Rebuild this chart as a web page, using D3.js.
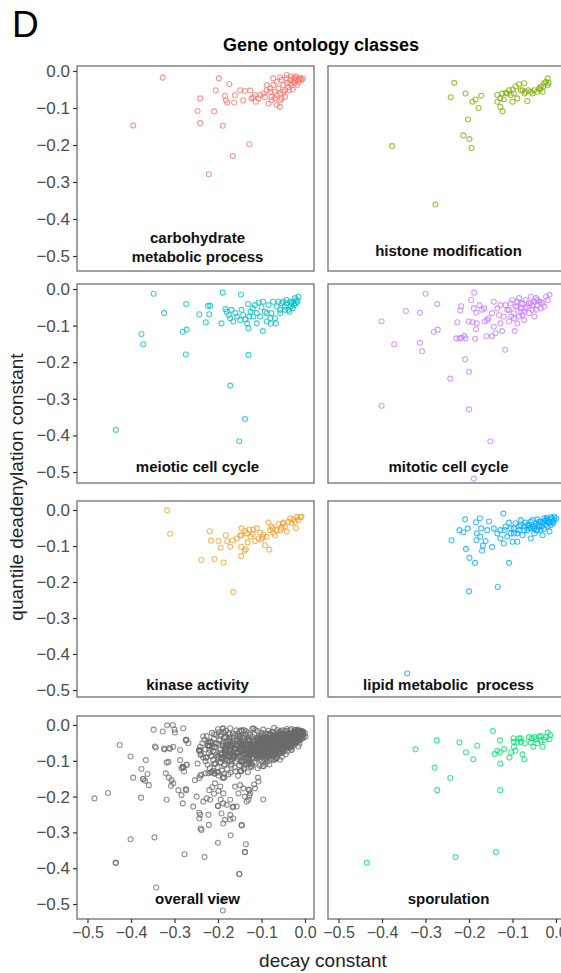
<!DOCTYPE html>
<html>
<head>
<meta charset="utf-8">
<script src="https://cdnjs.cloudflare.com/ajax/libs/d3/7.8.5/d3.min.js"></script>
<style>
  body { margin: 0; background: #fff; }
  text { font-family: "Liberation Sans", Arial, sans-serif; }
</style>
</head>
<body>
<div id="d3"></div>
<script>
// values: [decay constant, quantile deadenylation constant]
const carbohydrate = [
  [-0.327,-0.018],[-0.395,-0.147],[-0.198,-0.020],[-0.174,-0.035],[-0.205,-0.052],[-0.241,-0.074],[-0.247,-0.108],
  [-0.209,-0.109],[-0.241,-0.141],[-0.189,-0.148],[-0.128,-0.198],[-0.166,-0.230],[-0.221,-0.279],[-0.184,-0.067],
  [-0.182,-0.079],[-0.179,-0.085],[-0.163,-0.085],[-0.161,-0.065],[-0.149,-0.052],[-0.138,-0.054],[-0.126,-0.053],
  [-0.142,-0.079],[-0.123,-0.074],[-0.113,-0.083],[-0.065,-0.092],[-0.058,-0.097],[-0.084,-0.088],
  [-0.103,-0.065],[-0.096,-0.061],[-0.088,-0.052],[-0.080,-0.047],[-0.077,-0.070],[-0.073,-0.038],[-0.069,-0.056],
  [-0.065,-0.029],[-0.061,-0.047],[-0.057,-0.061],[-0.054,-0.024],[-0.050,-0.038],[-0.046,-0.052],[-0.042,-0.020],
  [-0.041,-0.033],[-0.038,-0.044],[-0.034,-0.024],[-0.033,-0.015],[-0.031,-0.038],[-0.027,-0.029],[-0.025,-0.020],
  [-0.023,-0.033],[-0.021,-0.024],[-0.019,-0.017],[-0.015,-0.029],[-0.013,-0.023],[-0.011,-0.020],[-0.008,-0.024],
  [-0.005,-0.020],[-0.054,-0.074],[-0.046,-0.070],[-0.069,-0.074],[-0.077,-0.079],[-0.107,-0.074],[-0.115,-0.065],
  [-0.119,-0.071],[-0.057,-0.079],[-0.050,-0.056],[-0.036,-0.052],[-0.028,-0.050],[-0.018,-0.038],[-0.042,-0.011],
  [-0.057,-0.017],[-0.073,-0.020],[-0.088,-0.038],[-0.092,-0.070],[-0.080,-0.056],[-0.065,-0.065],[-0.034,-0.033],
  [-0.023,-0.014]
];
const histone = [
  [-0.234,-0.032],[-0.242,-0.071],[-0.208,-0.061],[-0.192,-0.083],[-0.185,-0.077],[-0.172,-0.067],[-0.178,-0.100],
  [-0.202,-0.131],[-0.213,-0.174],[-0.199,-0.184],[-0.194,-0.208],[-0.377,-0.203],[-0.277,-0.361],
  [-0.135,-0.065],[-0.135,-0.083],[-0.128,-0.097],[-0.123,-0.109],[-0.120,-0.077],[-0.116,-0.059],[-0.108,-0.052],
  [-0.104,-0.065],[-0.100,-0.083],[-0.097,-0.061],[-0.093,-0.042],[-0.085,-0.036],[-0.081,-0.052],[-0.073,-0.033],
  [-0.072,-0.061],[-0.066,-0.081],[-0.058,-0.056],[-0.050,-0.052],[-0.043,-0.056],[-0.035,-0.042],[-0.031,-0.056],
  [-0.027,-0.033],[-0.023,-0.029],[-0.019,-0.020],[-0.019,-0.038],[-0.039,-0.047],[-0.054,-0.061],[-0.070,-0.056],
  [-0.112,-0.061],[-0.124,-0.061],[-0.128,-0.074],[-0.089,-0.074],[-0.077,-0.052],[-0.100,-0.050],[-0.064,-0.052],
  [-0.017,-0.032],[-0.029,-0.042],[-0.036,-0.050]
];
const meiotic = [
  [-0.348,-0.013],[-0.435,-0.385],[-0.376,-0.123],[-0.372,-0.151],[-0.324,-0.066],[-0.273,-0.041],[-0.281,-0.117],
  [-0.272,-0.111],[-0.274,-0.179],[-0.243,-0.069],[-0.228,-0.091],[-0.223,-0.046],[-0.218,-0.046],[-0.220,-0.069],
  [-0.192,-0.094],[-0.189,-0.010],[-0.147,-0.015],[-0.131,-0.041],[-0.130,-0.107],[-0.130,-0.180],[-0.172,-0.264],
  [-0.138,-0.355],[-0.151,-0.416],[-0.097,-0.115],
  [-0.183,-0.055],[-0.180,-0.062],[-0.175,-0.071],[-0.172,-0.080],[-0.169,-0.057],[-0.165,-0.089],[-0.160,-0.066],
  [-0.156,-0.075],[-0.149,-0.085],[-0.146,-0.057],[-0.142,-0.071],[-0.137,-0.083],[-0.133,-0.094],[-0.128,-0.075],
  [-0.125,-0.062],[-0.120,-0.053],[-0.115,-0.044],[-0.111,-0.066],[-0.107,-0.037],[-0.103,-0.075],[-0.100,-0.050],
  [-0.096,-0.035],[-0.092,-0.062],[-0.088,-0.089],[-0.084,-0.044],[-0.080,-0.080],[-0.077,-0.066],[-0.073,-0.035],
  [-0.069,-0.080],[-0.065,-0.048],[-0.061,-0.035],[-0.057,-0.057],[-0.054,-0.039],[-0.050,-0.035],[-0.046,-0.048],
  [-0.042,-0.039],[-0.038,-0.057],[-0.034,-0.035],[-0.033,-0.048],[-0.031,-0.039],[-0.028,-0.053],[-0.027,-0.035],
  [-0.025,-0.044],[-0.023,-0.025],[-0.021,-0.039],[-0.019,-0.030],[-0.017,-0.035],[-0.015,-0.021],[-0.046,-0.057],
  [-0.057,-0.066],[-0.088,-0.066],[-0.111,-0.094],[-0.119,-0.075],[-0.079,-0.095],[-0.067,-0.094],[-0.036,-0.062],
  [-0.042,-0.030]
];
const mitotic = [
  [-0.300,-0.013],[-0.401,-0.088],[-0.372,-0.151],[-0.345,-0.060],[-0.313,-0.065],[-0.313,-0.147],[-0.308,-0.170],
  [-0.273,-0.041],[-0.281,-0.117],[-0.272,-0.111],[-0.401,-0.319],[-0.243,-0.245],[-0.209,-0.192],[-0.200,-0.226],
  [-0.200,-0.329],[-0.151,-0.416],[-0.189,-0.491],[-0.189,-0.518],[-0.117,-0.166],[-0.188,-0.010],[-0.218,-0.047],
  [-0.220,-0.059],[-0.227,-0.091],[-0.229,-0.135],[-0.222,-0.135],[-0.217,-0.133],[-0.208,-0.135],[-0.211,-0.128],
  [-0.201,-0.089],[-0.192,-0.091],[-0.195,-0.030],[-0.186,-0.136],[-0.184,-0.110],
  [-0.182,-0.094],[-0.189,-0.053],[-0.183,-0.065],[-0.176,-0.044],[-0.165,-0.053],[-0.160,-0.129],[-0.147,-0.129],
  [-0.139,-0.121],[-0.124,-0.115],[-0.095,-0.115],[-0.164,-0.089],[-0.155,-0.080],[-0.147,-0.066],[-0.143,-0.035],
  [-0.135,-0.053],[-0.128,-0.044],[-0.120,-0.075],[-0.112,-0.057],[-0.108,-0.089],[-0.104,-0.039],[-0.100,-0.030],
  [-0.097,-0.066],[-0.093,-0.048],[-0.089,-0.035],[-0.085,-0.075],[-0.081,-0.053],[-0.077,-0.039],[-0.073,-0.062],
  [-0.070,-0.030],[-0.066,-0.048],[-0.062,-0.066],[-0.058,-0.039],[-0.054,-0.057],[-0.050,-0.075],[-0.046,-0.025],
  [-0.043,-0.044],[-0.039,-0.035],[-0.035,-0.053],[-0.031,-0.039],[-0.027,-0.048],[-0.023,-0.021],[-0.019,-0.030],
  [-0.015,-0.016],[-0.058,-0.021],[-0.073,-0.085],[-0.128,-0.094],[-0.143,-0.103],[-0.158,-0.085],[-0.170,-0.057],
  [-0.089,-0.094],[-0.103,-0.075],[-0.077,-0.071],[-0.046,-0.057],[-0.035,-0.035],[-0.085,-0.025],[-0.116,-0.044],
  [-0.131,-0.071],[-0.089,-0.048],[-0.081,-0.062],[-0.070,-0.053],[-0.062,-0.039],[-0.054,-0.044],[-0.050,-0.035],
  [-0.043,-0.030],[-0.097,-0.080],[-0.108,-0.057],[-0.081,-0.039]
];
const kinase = [
  [-0.317,-0.001],[-0.310,-0.066],[-0.238,-0.139],[-0.219,-0.059],[-0.216,-0.085],[-0.208,-0.136],[-0.199,-0.086],
  [-0.194,-0.105],[-0.187,-0.146],[-0.182,-0.070],[-0.179,-0.087],[-0.172,-0.102],[-0.165,-0.228],[-0.166,-0.084],
  [-0.149,-0.071],[-0.147,-0.102],[-0.147,-0.128],[-0.146,-0.051],[-0.136,-0.109],[-0.134,-0.065],[-0.132,-0.090],
  [-0.128,-0.054],[-0.125,-0.074],[-0.120,-0.067],[-0.115,-0.086],[-0.111,-0.051],[-0.107,-0.079],[-0.103,-0.063],
  [-0.100,-0.082],[-0.096,-0.068],[-0.092,-0.098],[-0.088,-0.074],[-0.084,-0.035],[-0.082,-0.110],[-0.080,-0.056],
  [-0.077,-0.046],[-0.073,-0.063],[-0.069,-0.070],[-0.065,-0.056],[-0.061,-0.039],[-0.057,-0.056],[-0.054,-0.049],
  [-0.050,-0.035],[-0.046,-0.045],[-0.042,-0.060],[-0.038,-0.033],[-0.034,-0.023],[-0.031,-0.037],[-0.027,-0.026],
  [-0.023,-0.033],[-0.019,-0.019],[-0.015,-0.028],[-0.011,-0.020],[-0.008,-0.019],[-0.021,-0.051],[-0.146,-0.070],
  [-0.138,-0.058],[-0.119,-0.054],[-0.097,-0.076],[-0.074,-0.051],[-0.051,-0.039],[-0.139,-0.113],[-0.157,-0.079]
];
const lipid = [
  [-0.342,-0.454],[-0.200,-0.226],[-0.134,-0.214],[-0.108,-0.147],[-0.186,-0.147],[-0.199,-0.133],[-0.207,-0.108],
  [-0.240,-0.084],[-0.222,-0.056],[-0.213,-0.062],[-0.209,-0.026],[-0.203,-0.051],[-0.184,-0.034],[-0.175,-0.023],
  [-0.172,-0.051],[-0.182,-0.065],[-0.183,-0.084],[-0.170,-0.113],[-0.168,-0.099],[-0.162,-0.086],[-0.174,-0.074],
  [-0.154,-0.032],[-0.147,-0.103],[-0.143,-0.051],[-0.135,-0.065],[-0.128,-0.056],[-0.121,-0.010],[-0.120,-0.093],
  [-0.116,-0.046],[-0.108,-0.035],[-0.104,-0.065],[-0.100,-0.088],[-0.097,-0.051],[-0.093,-0.037],[-0.089,-0.088],
  [-0.085,-0.056],[-0.081,-0.042],[-0.077,-0.070],[-0.073,-0.046],[-0.070,-0.035],[-0.066,-0.056],[-0.062,-0.042],
  [-0.058,-0.079],[-0.054,-0.028],[-0.050,-0.051],[-0.046,-0.037],[-0.043,-0.026],[-0.039,-0.046],[-0.035,-0.033],
  [-0.031,-0.070],[-0.027,-0.023],[-0.023,-0.042],[-0.019,-0.028],[-0.015,-0.060],[-0.012,-0.020],[-0.008,-0.033],
  [-0.004,-0.019],[0.000,-0.023],[-0.050,-0.065],[-0.035,-0.056],[-0.089,-0.065],[-0.081,-0.028],[-0.058,-0.033],
  [-0.043,-0.056],[-0.019,-0.046],[-0.128,-0.079],[-0.112,-0.074],[-0.158,-0.056],[-0.073,-0.056],[-0.066,-0.042],
  [-0.054,-0.046],[-0.046,-0.056],[-0.039,-0.033],[-0.031,-0.037],[-0.023,-0.028],[-0.015,-0.033],[-0.012,-0.042],
  [-0.004,-0.028],[-0.058,-0.051],[-0.097,-0.065],[-0.085,-0.046],[-0.104,-0.051],[-0.118,-0.056],
  [-0.026,-0.031],[-0.017,-0.036],[-0.009,-0.024],[-0.033,-0.046],[-0.048,-0.045],[-0.062,-0.050],[-0.041,-0.041],
  [-0.021,-0.022],[-0.006,-0.037],[-0.028,-0.053]
];
const sporulation = [
  [-0.435,-0.385],[-0.323,-0.068],[-0.274,-0.043],[-0.279,-0.119],[-0.273,-0.182],[-0.243,-0.148],[-0.231,-0.369],
  [-0.222,-0.048],[-0.207,-0.076],[-0.190,-0.096],[-0.181,-0.058],[-0.145,-0.017],[-0.138,-0.355],[-0.128,-0.182],
  [-0.129,-0.043],[-0.128,-0.108],[-0.141,-0.081],[-0.135,-0.072],[-0.129,-0.076],[-0.119,-0.067],[-0.107,-0.091],
  [-0.103,-0.076],[-0.097,-0.061],[-0.098,-0.037],[-0.093,-0.072],[-0.089,-0.049],[-0.085,-0.037],[-0.081,-0.047],
  [-0.077,-0.082],[-0.073,-0.096],[-0.072,-0.051],[-0.062,-0.034],[-0.058,-0.049],[-0.052,-0.061],[-0.050,-0.034],
  [-0.046,-0.040],[-0.043,-0.051],[-0.039,-0.033],[-0.035,-0.044],[-0.031,-0.061],[-0.027,-0.042],[-0.023,-0.034],
  [-0.019,-0.021],[-0.015,-0.040],[-0.013,-0.028],[-0.081,-0.037],[-0.056,-0.037],[-0.097,-0.047],[-0.035,-0.031]
];
// genes only seen in the overall panel
const overallOnly = [
  [-0.484,-0.205],[-0.453,-0.190],[-0.426,-0.056],[-0.366,-0.098],[-0.368,-0.156],[-0.362,-0.137],[-0.359,-0.168],
  [-0.346,-0.314],[-0.343,-0.063],[-0.304,0.000],[-0.299,-0.021],[-0.280,-0.009],[-0.303,-0.061],[-0.318,-0.105],
  [-0.314,-0.103],[-0.320,-0.135],[-0.307,-0.154],[-0.318,-0.209],[-0.303,-0.163],[-0.291,-0.182],[-0.287,-0.098],
  [-0.284,-0.121],[-0.278,-0.130],[-0.287,-0.070],[-0.268,-0.051],[-0.281,-0.219],[-0.284,-0.196],[-0.253,-0.154],
  [-0.249,-0.200],[-0.257,-0.228],[-0.241,-0.251],[-0.243,-0.261],[-0.240,-0.289],[-0.238,-0.293],[-0.222,-0.251],
  [-0.234,-0.214],[-0.226,-0.205],[-0.218,-0.209],[-0.220,-0.182],[-0.207,-0.163],[-0.195,-0.172],[-0.188,-0.191],
  [-0.188,-0.219],[-0.180,-0.223],[-0.172,-0.209],[-0.192,-0.247],[-0.188,-0.275],[-0.184,-0.265],[-0.172,-0.251],
  [-0.165,-0.261],[-0.157,-0.228],[-0.161,-0.172],[-0.153,-0.191],[-0.149,-0.168],[-0.142,-0.177],[-0.138,-0.200],
  [-0.126,-0.191],[-0.146,-0.279],[-0.130,-0.209],[-0.115,-0.177],[-0.107,-0.158],[-0.096,-0.208],[-0.171,-0.308],
  [-0.136,-0.333],[-0.145,-0.281],
  [-0.200,-0.012],[-0.172,-0.009],[-0.141,-0.014],[-0.118,-0.010],[-0.096,-0.013],[-0.071,-0.008],[-0.052,-0.015],
  [-0.031,-0.011],[-0.016,-0.013],[-0.214,-0.022],[-0.188,-0.019],[-0.166,-0.024],[-0.151,-0.018],[-0.131,-0.022],
  [-0.109,-0.017],[-0.091,-0.023],[-0.076,-0.019],[-0.061,-0.021],[-0.046,-0.017],[-0.036,-0.023],[-0.026,-0.018],
  [-0.017,-0.021],[-0.010,-0.016],[-0.004,-0.022],[-0.226,-0.031],[-0.204,-0.028],[-0.181,-0.033],[-0.161,-0.029],
  [-0.144,-0.032],[-0.126,-0.027],[-0.104,-0.031],[-0.091,-0.034],[-0.079,-0.028],[-0.066,-0.032],[-0.054,-0.027],
  [-0.041,-0.031],[-0.029,-0.034],[-0.021,-0.028],[-0.012,-0.031],[-0.005,-0.027],[0.001,-0.032],[-0.231,-0.041],
  [-0.209,-0.038],[-0.196,-0.043],[-0.174,-0.039],[-0.156,-0.042],[-0.139,-0.037],[-0.121,-0.041],[-0.101,-0.044],
  [-0.086,-0.038],[-0.071,-0.042],[-0.059,-0.039],[-0.049,-0.043],[-0.037,-0.038],[-0.027,-0.041],[-0.017,-0.044],
  [-0.008,-0.039],[-0.236,-0.051],[-0.216,-0.048],[-0.199,-0.053],[-0.181,-0.049],[-0.164,-0.052],[-0.149,-0.047],
  [-0.134,-0.051],[-0.116,-0.054],[-0.099,-0.048],[-0.087,-0.052],[-0.076,-0.049],[-0.063,-0.053],[-0.051,-0.048],
  [-0.039,-0.051],[-0.031,-0.054],[-0.021,-0.049],[-0.013,-0.052],[-0.241,-0.061],[-0.224,-0.058],[-0.206,-0.062],
  [-0.189,-0.059],[-0.171,-0.063],[-0.154,-0.058],[-0.141,-0.061],[-0.124,-0.064],[-0.111,-0.059],[-0.094,-0.062],
  [-0.083,-0.058],[-0.069,-0.063],[-0.057,-0.059],[-0.046,-0.061],[-0.034,-0.064],[-0.026,-0.058],[-0.244,-0.071],
  [-0.229,-0.068],[-0.211,-0.073],[-0.194,-0.069],[-0.181,-0.072],[-0.159,-0.068],[-0.146,-0.071],[-0.129,-0.074],
  [-0.116,-0.069],[-0.101,-0.072],[-0.086,-0.068],[-0.076,-0.073],[-0.061,-0.069],[-0.051,-0.072],[-0.041,-0.074],
  [-0.031,-0.069],[-0.239,-0.081],[-0.221,-0.078],[-0.204,-0.083],[-0.191,-0.079],[-0.169,-0.082],[-0.156,-0.078],
  [-0.139,-0.081],[-0.126,-0.084],[-0.109,-0.079],[-0.096,-0.082],[-0.081,-0.078],[-0.067,-0.083],[-0.056,-0.079],
  [-0.044,-0.082],[-0.234,-0.091],[-0.216,-0.088],[-0.199,-0.093],[-0.186,-0.089],[-0.164,-0.092],[-0.151,-0.088],
  [-0.134,-0.091],[-0.121,-0.094],[-0.104,-0.089],[-0.091,-0.092],[-0.076,-0.088],[-0.066,-0.093],[-0.053,-0.089],
  [-0.229,-0.101],[-0.211,-0.098],[-0.194,-0.103],[-0.176,-0.099],[-0.159,-0.102],[-0.146,-0.098],[-0.129,-0.101],
  [-0.116,-0.104],[-0.099,-0.099],[-0.086,-0.102],[-0.071,-0.098],[-0.224,-0.111],[-0.206,-0.108],[-0.186,-0.113],
  [-0.169,-0.109],[-0.151,-0.112],[-0.134,-0.108],[-0.121,-0.111],[-0.104,-0.114],[-0.091,-0.109],[-0.219,-0.121],
  [-0.201,-0.118],[-0.179,-0.123],[-0.161,-0.119],[-0.141,-0.122],[-0.124,-0.118],[-0.109,-0.121],[-0.214,-0.131],
  [-0.191,-0.128],[-0.171,-0.133],[-0.149,-0.129],[-0.131,-0.132],[-0.199,-0.141],[-0.176,-0.138],[-0.154,-0.142],
  [-0.182,-0.016],[-0.158,-0.015],[-0.136,-0.017],[-0.114,-0.014],[-0.084,-0.016],[-0.064,-0.014],[-0.042,-0.016],
  [-0.022,-0.014],[-0.007,-0.017],[-0.193,-0.026],[-0.173,-0.026],[-0.155,-0.025],[-0.136,-0.027],[-0.117,-0.025],
  [-0.098,-0.026],[-0.085,-0.025],[-0.072,-0.027],[-0.058,-0.025],[-0.048,-0.026],[-0.033,-0.027],[-0.014,-0.025],
  [-0.186,-0.036],[-0.167,-0.035],[-0.149,-0.036],[-0.131,-0.035],[-0.112,-0.037],[-0.094,-0.036],[-0.078,-0.035],
  [-0.064,-0.037],[-0.046,-0.035],[-0.034,-0.036],[-0.023,-0.035],[-0.014,-0.037],[-0.188,-0.046],[-0.171,-0.045],
  [-0.152,-0.046],[-0.128,-0.045],[-0.109,-0.047],[-0.093,-0.046],[-0.081,-0.045],[-0.066,-0.047],[-0.055,-0.045],
  [-0.044,-0.046],[-0.033,-0.045],[-0.024,-0.047],[-0.176,-0.056],[-0.158,-0.055],[-0.143,-0.057],[-0.126,-0.056],
  [-0.107,-0.055],[-0.092,-0.057],[-0.081,-0.056],[-0.069,-0.055],[-0.057,-0.057],[-0.045,-0.056],[-0.036,-0.055],
  [-0.163,-0.066],[-0.148,-0.065],[-0.133,-0.066],[-0.118,-0.067],[-0.103,-0.065],[-0.089,-0.066],[-0.076,-0.065],
  [-0.064,-0.067],[-0.053,-0.066],[-0.164,-0.076],[-0.147,-0.075],[-0.132,-0.076],[-0.117,-0.077],[-0.102,-0.075],
  [-0.088,-0.076],[-0.074,-0.075],[-0.061,-0.077],[-0.143,-0.086],[-0.128,-0.085],[-0.112,-0.086],[-0.097,-0.087],
  [-0.083,-0.085],[-0.071,-0.086],
  [-0.150,-0.040],[-0.140,-0.045],[-0.130,-0.040],[-0.120,-0.048],[-0.110,-0.042],[-0.100,-0.038],[-0.090,-0.043],
  [-0.080,-0.040],[-0.070,-0.037],[-0.060,-0.044],[-0.050,-0.040],[-0.040,-0.036],[-0.030,-0.043],[-0.020,-0.038],
  [-0.010,-0.034],[-0.145,-0.060],[-0.135,-0.055],[-0.125,-0.061],[-0.115,-0.062],[-0.105,-0.058],[-0.095,-0.055],
  [-0.085,-0.062],[-0.075,-0.059],[-0.065,-0.054],[-0.055,-0.062],[-0.045,-0.052],[-0.035,-0.049],[-0.025,-0.046],
  [-0.015,-0.045],[-0.140,-0.070],[-0.125,-0.078],[-0.110,-0.072],[-0.095,-0.070],[-0.080,-0.073],[-0.070,-0.079],
  [-0.058,-0.072],[-0.048,-0.068],[-0.038,-0.060],[-0.150,-0.030],[-0.120,-0.033],[-0.100,-0.022],[-0.080,-0.024],
  [-0.060,-0.030],[-0.040,-0.027],[-0.020,-0.031],[-0.008,-0.029],[-0.003,-0.035],[-0.170,-0.070],[-0.160,-0.060],
  [-0.178,-0.055],[-0.165,-0.045],[-0.185,-0.065],[-0.195,-0.078],[-0.175,-0.088],[-0.155,-0.095],[-0.140,-0.100],
  [-0.120,-0.090],[-0.105,-0.097],[-0.092,-0.083]
];
const overall = overallOnly.concat(carbohydrate, histone, meiotic, mitotic, kinase, lipid, sporulation);

const panelLabels = [["carbohydrate", "metabolic process"], ["histone modification"], ["meiotic cell cycle"],
  ["mitotic cell cycle"], ["kinase activity"], ["lipid metabolic  process"], ["overall view"], ["sporulation"]];
const panelData = [carbohydrate, histone, meiotic, mitotic, kinase, lipid, overall, sporulation];
const panelColors = ["#F8766D", "#7CAE00", "#00BFC4", "#C77CFF", "#EFA02E", "#00A9FF", "#6b6b6b", "#00DF72"];
const ticks = [-0.5, -0.4, -0.3, -0.2, -0.1, 0.0];

// layout (the source figure rows are not evenly spaced)
const width = 561, height = 973;
const colLeft = [77, 328], panelW = 237;
const rowTop = [66, 284, 501, 716], rowBottom = [271, 483, 697, 919];
const rowZero = [71, 289, 510, 725], rowHalf = [256, 472, 690, 904];

const svg = d3.select("#d3").append("svg")
    .attr("width", width)
    .attr("height", height);

svg.append("text")
    .attr("x", 12).attr("y", 37)
    .style("font-size", "37px")
    .text("D");

svg.append("text")
    .attr("x", 321).attr("y", 51)
    .attr("text-anchor", "middle")
    .style("font-size", "18px").style("font-weight", "bold")
    .text("Gene ontology classes");

panelData.forEach((data, i) => {
  const col = i % 2, row = Math.floor(i / 2);
  const x0 = colLeft[col];
  const x = d3.scaleLinear().domain([-0.5, 0]).range([x0 + 10.5, x0 + 228]);
  const y = d3.scaleLinear().domain([-0.5, 0]).range([rowHalf[row], rowZero[row]]);
  const g = svg.append("g");

  g.append("clipPath").attr("id", "clip" + i)
    .append("rect")
      .attr("x", x0).attr("y", rowTop[row])
      .attr("width", panelW).attr("height", rowBottom[row] - rowTop[row]);

  g.append("g")
      .attr("clip-path", `url(#clip${i})`)
    .selectAll("circle")
    .data(data)
    .join("circle")
      .attr("cx", d => x(d[0]))
      .attr("cy", d => y(d[1]))
      .attr("r", 2.5)
      .attr("fill", "none")
      .attr("stroke", panelColors[i])
      .attr("stroke-opacity", 0.75)
      .attr("stroke-width", 1.1);

  g.append("rect")
      .attr("x", x0).attr("y", rowTop[row])
      .attr("width", panelW).attr("height", rowBottom[row] - rowTop[row])
      .attr("fill", "none")
      .attr("stroke", "#7a7a7a")
      .attr("stroke-width", 1.4);

  const lab = panelLabels[i];
  const lastY = y(-0.5) + (lab.length > 1 ? 6 : 0);
  lab.forEach((t, k) => {
    g.append("text")
        .attr("x", x0 + panelW / 2 + 2)
        .attr("y", lastY - (lab.length - 1 - k) * 19)
        .attr("text-anchor", "middle")
        .style("font-size", "15px").style("font-weight", "bold")
        .style("white-space", "pre")
        .attr("fill", "#111")
        .text(t);
  });

  if (col == 0) {
    const ay = g.append("g")
        .attr("transform", `translate(${x0},0)`)
        .call(d3.axisLeft(y).tickValues(ticks).tickSize(4).tickPadding(3).tickFormat(d3.format(".1f")));
    ay.select(".domain").remove();
    ay.selectAll("line").attr("stroke", "#333").attr("stroke-width", 1.2);
    ay.selectAll("text").attr("fill", "#4d4d4d").style("font-size", "17px")
        .style("font-family", "'Liberation Sans', Arial, sans-serif");
  }
  if (row == 3) {
    const ax = g.append("g")
        .attr("transform", `translate(0,${rowBottom[row]})`)
        .call(d3.axisBottom(x).tickValues(ticks).tickSize(4).tickPadding(4).tickFormat(d3.format(".1f")));
    ax.select(".domain").remove();
    ax.selectAll("line").attr("stroke", "#333").attr("stroke-width", 1.2);
    ax.selectAll("text").attr("fill", "#4d4d4d").style("font-size", "16px")
        .style("font-family", "'Liberation Sans', Arial, sans-serif");
  }
});

svg.append("text")
    .attr("transform", "translate(23,487) rotate(-90)")
    .attr("text-anchor", "middle")
    .style("font-size", "19px")
    .attr("fill", "#222")
    .text("quantile deadenylation constant");

svg.append("text")
    .attr("x", 323).attr("y", 967)
    .attr("text-anchor", "middle")
    .style("font-size", "19px")
    .attr("fill", "#222")
    .text("decay constant");
</script>
</body>
</html>
